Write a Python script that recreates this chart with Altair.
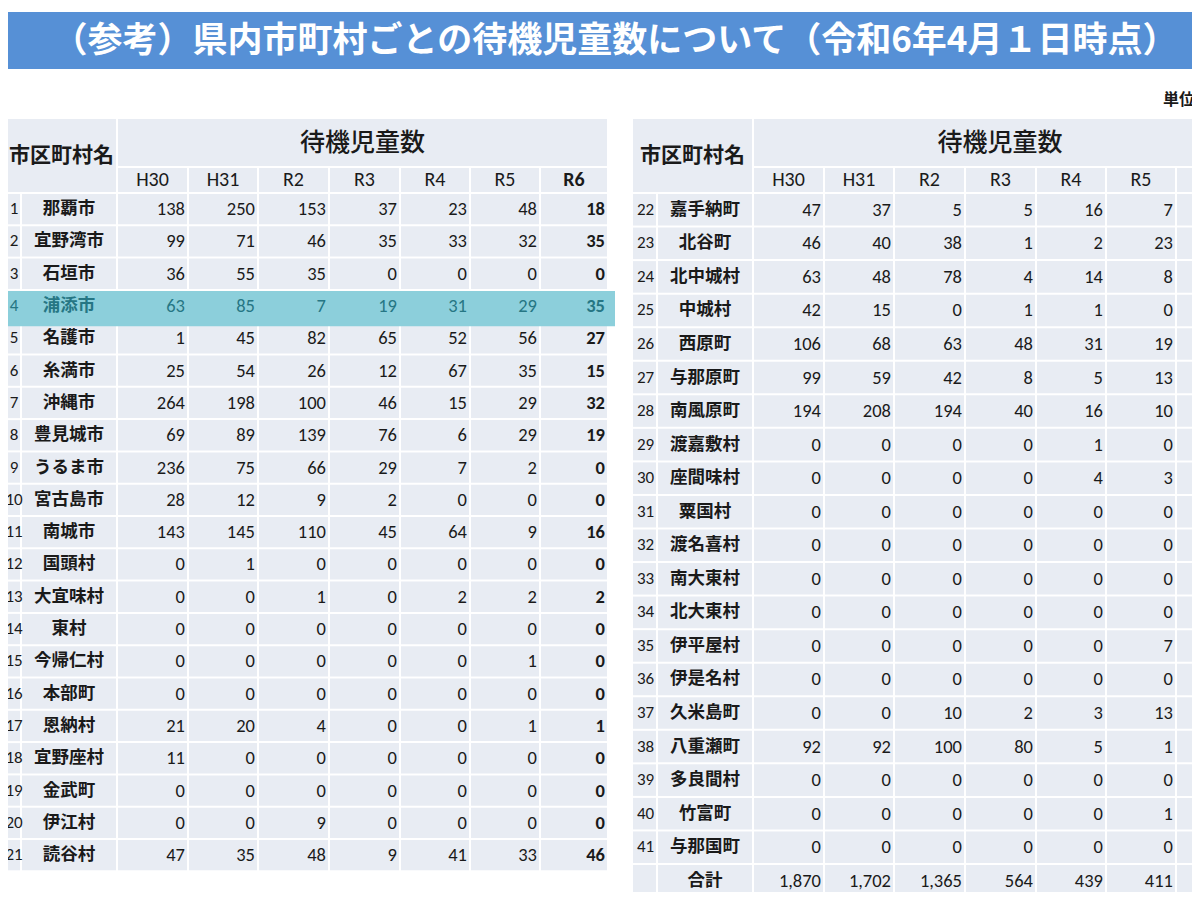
import altair as alt
import pandas as pd

# ---------------- data ----------------
title_text = "（参考）県内市町村ごとの待機児童数について（令和6年4月１日時点）"
unit_text = "単位：人"
name_header = "市区町村名"
group_header = "待機児童数"
total_label = "合計"
years = ["H30", "H31", "R2", "R3", "R4", "R5", "R6"]

left_names = ["那覇市", "宜野湾市", "石垣市", "浦添市", "名護市", "糸満市", "沖縄市",
              "豊見城市", "うるま市", "宮古島市", "南城市", "国頭村", "大宜味村", "東村",
              "今帰仁村", "本部町", "恩納村", "宜野座村", "金武町", "伊江村", "読谷村"]
H30_L = [138, 99, 36, 63, 1, 25, 264, 69, 236, 28, 143, 0, 0, 0, 0, 0, 21, 11, 0, 0, 47]
H31_L = [250, 71, 55, 85, 45, 54, 198, 89, 75, 12, 145, 1, 0, 0, 0, 0, 20, 0, 0, 0, 35]
R2_L = [153, 46, 35, 7, 82, 26, 100, 139, 66, 9, 110, 0, 1, 0, 0, 0, 4, 0, 0, 9, 48]
R3_L = [37, 35, 0, 19, 65, 12, 46, 76, 29, 2, 45, 0, 0, 0, 0, 0, 0, 0, 0, 0, 9]
R4_L = [23, 33, 0, 31, 52, 67, 15, 6, 7, 0, 64, 0, 2, 0, 0, 0, 0, 0, 0, 0, 41]
R5_L = [48, 32, 0, 29, 56, 35, 29, 29, 2, 0, 9, 0, 2, 0, 1, 0, 1, 0, 0, 0, 33]
R6_L = [18, 35, 0, 35, 27, 15, 32, 19, 0, 0, 16, 0, 2, 0, 0, 0, 1, 0, 0, 0, 46]

right_names = ["嘉手納町", "北谷町", "北中城村", "中城村", "西原町", "与那原町", "南風原町",
               "渡嘉敷村", "座間味村", "粟国村", "渡名喜村", "南大東村", "北大東村", "伊平屋村",
               "伊是名村", "久米島町", "八重瀬町", "多良間村", "竹富町", "与那国町"]
H30_R = [47, 46, 63, 42, 106, 99, 194, 0, 0, 0, 0, 0, 0, 0, 0, 0, 92, 0, 0, 0]
H31_R = [37, 40, 48, 15, 68, 59, 208, 0, 0, 0, 0, 0, 0, 0, 0, 0, 92, 0, 0, 0]
R2_R = [5, 38, 78, 0, 63, 42, 194, 0, 0, 0, 0, 0, 0, 0, 0, 10, 100, 0, 0, 0]
R3_R = [5, 1, 4, 1, 48, 8, 40, 0, 0, 0, 0, 0, 0, 0, 0, 2, 80, 0, 0, 0]
R4_R = [16, 2, 14, 1, 31, 5, 16, 1, 4, 0, 0, 0, 0, 0, 0, 3, 5, 0, 0, 0]
R5_R = [7, 23, 8, 0, 19, 13, 10, 0, 3, 0, 0, 0, 0, 7, 0, 13, 1, 0, 1, 0]
highlight_row = 4  # 浦添市

# ---------------- layout ----------------
W, H = 1184, 884
LEFT_COLS = [-4, 21, 117, 188, 258, 329, 400, 470, 540, 608]
RIGHT_COLS = [632, 657, 753, 824, 894, 965, 1036, 1106, 1176, 1247]
HDR_TOP, SUB_TOP, BODY_TOP = 118, 167, 193
ROW_H_L, ROW_H_R = 32.3, 33.55
CELL = "#E8ECF3"
HL = "#8CCFDB"
HL_TEXT = "#267684"
TXT = "#1a1a1a"
CJK = "Noto Sans CJK JP"
NUM = "Carlito, Lato, sans-serif"

left_vals = [H30_L, H31_L, R2_L, R3_L, R4_L, R5_L, R6_L]
right_vals = [H30_R, H31_R, R2_R, R3_R, R4_R, R5_R]
totals = [sum(a) + sum(b) for a, b in zip(left_vals[:6], right_vals)]

rects, texts = [], []


def rect(x, x2, y, y2, fill):
    rects.append(dict(x=x + 1, x2=x2 - 1, y=y + 1, y2=y2 - 1, fill=fill))


def txt(x, y, label, kind, color=TXT):
    texts.append(dict(tx=x, ty=y, label=str(label), kind=kind, tc=color))


def build(cols, row_h, names, start_no, vals, ncols_vals, total_row):
    left_edge = cols[0] < 0
    # header
    rect(cols[0], cols[2], HDR_TOP, BODY_TOP, CELL)
    rect(cols[2], cols[-1], HDR_TOP, SUB_TOP, CELL)
    txt((cols[0] + cols[2]) / 2 + (5 if left_edge else 0), (HDR_TOP + BODY_TOP) / 2, name_header, "hname")
    txt((cols[2] + cols[-1]) / 2, (HDR_TOP + SUB_TOP) / 2, group_header, "hgroup")
    for j, yr in enumerate(years):
        rect(cols[2 + j], cols[3 + j], SUB_TOP, BODY_TOP, CELL)
        txt((cols[2 + j] + cols[3 + j]) / 2, (SUB_TOP + BODY_TOP) / 2, yr, "hyb" if yr == "R6" else "hy")
    n = len(names)
    for i in range(n):
        y0 = BODY_TOP + i * row_h
        y1 = y0 + row_h
        yc = (y0 + y1) / 2
        no = start_no + i
        color = HL_TEXT if no == highlight_row else TXT
        for c in range(len(cols) - 1):
            rect(cols[c], cols[c + 1], y0, y1, CELL)
        txt(14 if left_edge else (cols[0] + cols[1]) / 2 + 1, yc, no, "no", color)
        txt((cols[1] + cols[2]) / 2, yc, names[i], "name", color)
        for j in range(ncols_vals):
            txt(cols[3 + j] - 3, yc, vals[j][i], "valb" if j == 6 else "val", color)
    if total_row:
        y0 = BODY_TOP + n * row_h
        y1 = y0 + row_h
        yc = (y0 + y1) / 2
        for c in range(len(cols) - 1):
            rect(cols[c], cols[c + 1], y0, y1, CELL)
        txt((cols[1] + cols[2]) / 2, yc, total_label, "name")
        for j, t in enumerate(totals):
            txt(cols[3 + j] - 3, yc, f"{t:,}", "val")


build(LEFT_COLS, ROW_H_L, left_names, 1, left_vals, 7, False)
build(RIGHT_COLS, ROW_H_R, right_names, 22, right_vals, 6, True)

# highlight strip for row 4 (drawn above the cells)
hl_y0 = BODY_TOP + (highlight_row - 1) * ROW_H_L
hl_df = pd.DataFrame([dict(x=-4, x2=615, y=hl_y0 + 1, y2=hl_y0 + ROW_H_L + 4, fill=HL)])

cells_df = pd.DataFrame(rects)
text_df = pd.DataFrame(texts)
title_df = pd.DataFrame([dict(x=-4, x2=1260, y=12, y2=69, fill="#5690D6")])
title_txt = pd.DataFrame([dict(tx=615, ty=41, label=title_text, kind="title", tc="#ffffff"),
                          dict(tx=1163, ty=100, label=unit_text, kind="unit", tc=TXT)])

xs = alt.Scale(domain=[8, 8 + W], nice=False, zero=False)
ys = alt.Scale(domain=[8, 8 + H], nice=False, zero=False, reverse=True)


def rect_layer(df):
    return alt.Chart(df).mark_rect().encode(
        x=alt.X("x:Q", scale=xs, axis=None), x2="x2:Q",
        y=alt.Y("y:Q", scale=ys, axis=None), y2="y2:Q",
        color=alt.Color("fill:N", scale=None))


def text_layer(df, kind, size, weight="normal", align="center", font=CJK):
    return alt.Chart(df).transform_filter(alt.datum.kind == kind).mark_text(
        fontSize=size, fontWeight=weight, align=align, baseline="middle", font=font
    ).encode(
        x=alt.X("tx:Q", scale=xs, axis=None),
        y=alt.Y("ty:Q", scale=ys, axis=None),
        text="label:N",
        color=alt.Color("tc:N", scale=None))


chart = alt.layer(
    rect_layer(title_df),
    rect_layer(cells_df),
    rect_layer(hl_df),
    text_layer(title_txt, "title", 35, "bold"),
    text_layer(title_txt, "unit", 16, "bold", "left"),
    text_layer(text_df, "hname", 21, "bold"),
    text_layer(text_df, "hgroup", 25, 500),
    text_layer(text_df, "hy", 20, "normal", "center", NUM),
    text_layer(text_df, "hyb", 20, "bold", "center", NUM),
    text_layer(text_df, "no", 17, "normal", "center", NUM),
    text_layer(text_df, "name", 17.5, "bold"),
    text_layer(text_df, "val", 18.5, "normal", "right", NUM),
    text_layer(text_df, "valb", 18.5, "bold", "right", NUM),
).properties(
    width=W, height=H, padding=0, background="#ffffff",
    autosize=alt.AutoSizeParams(type="none")
).configure_view(stroke=None)

chart.save("out.html", embed_options={"renderer": "svg", "actions": False})
